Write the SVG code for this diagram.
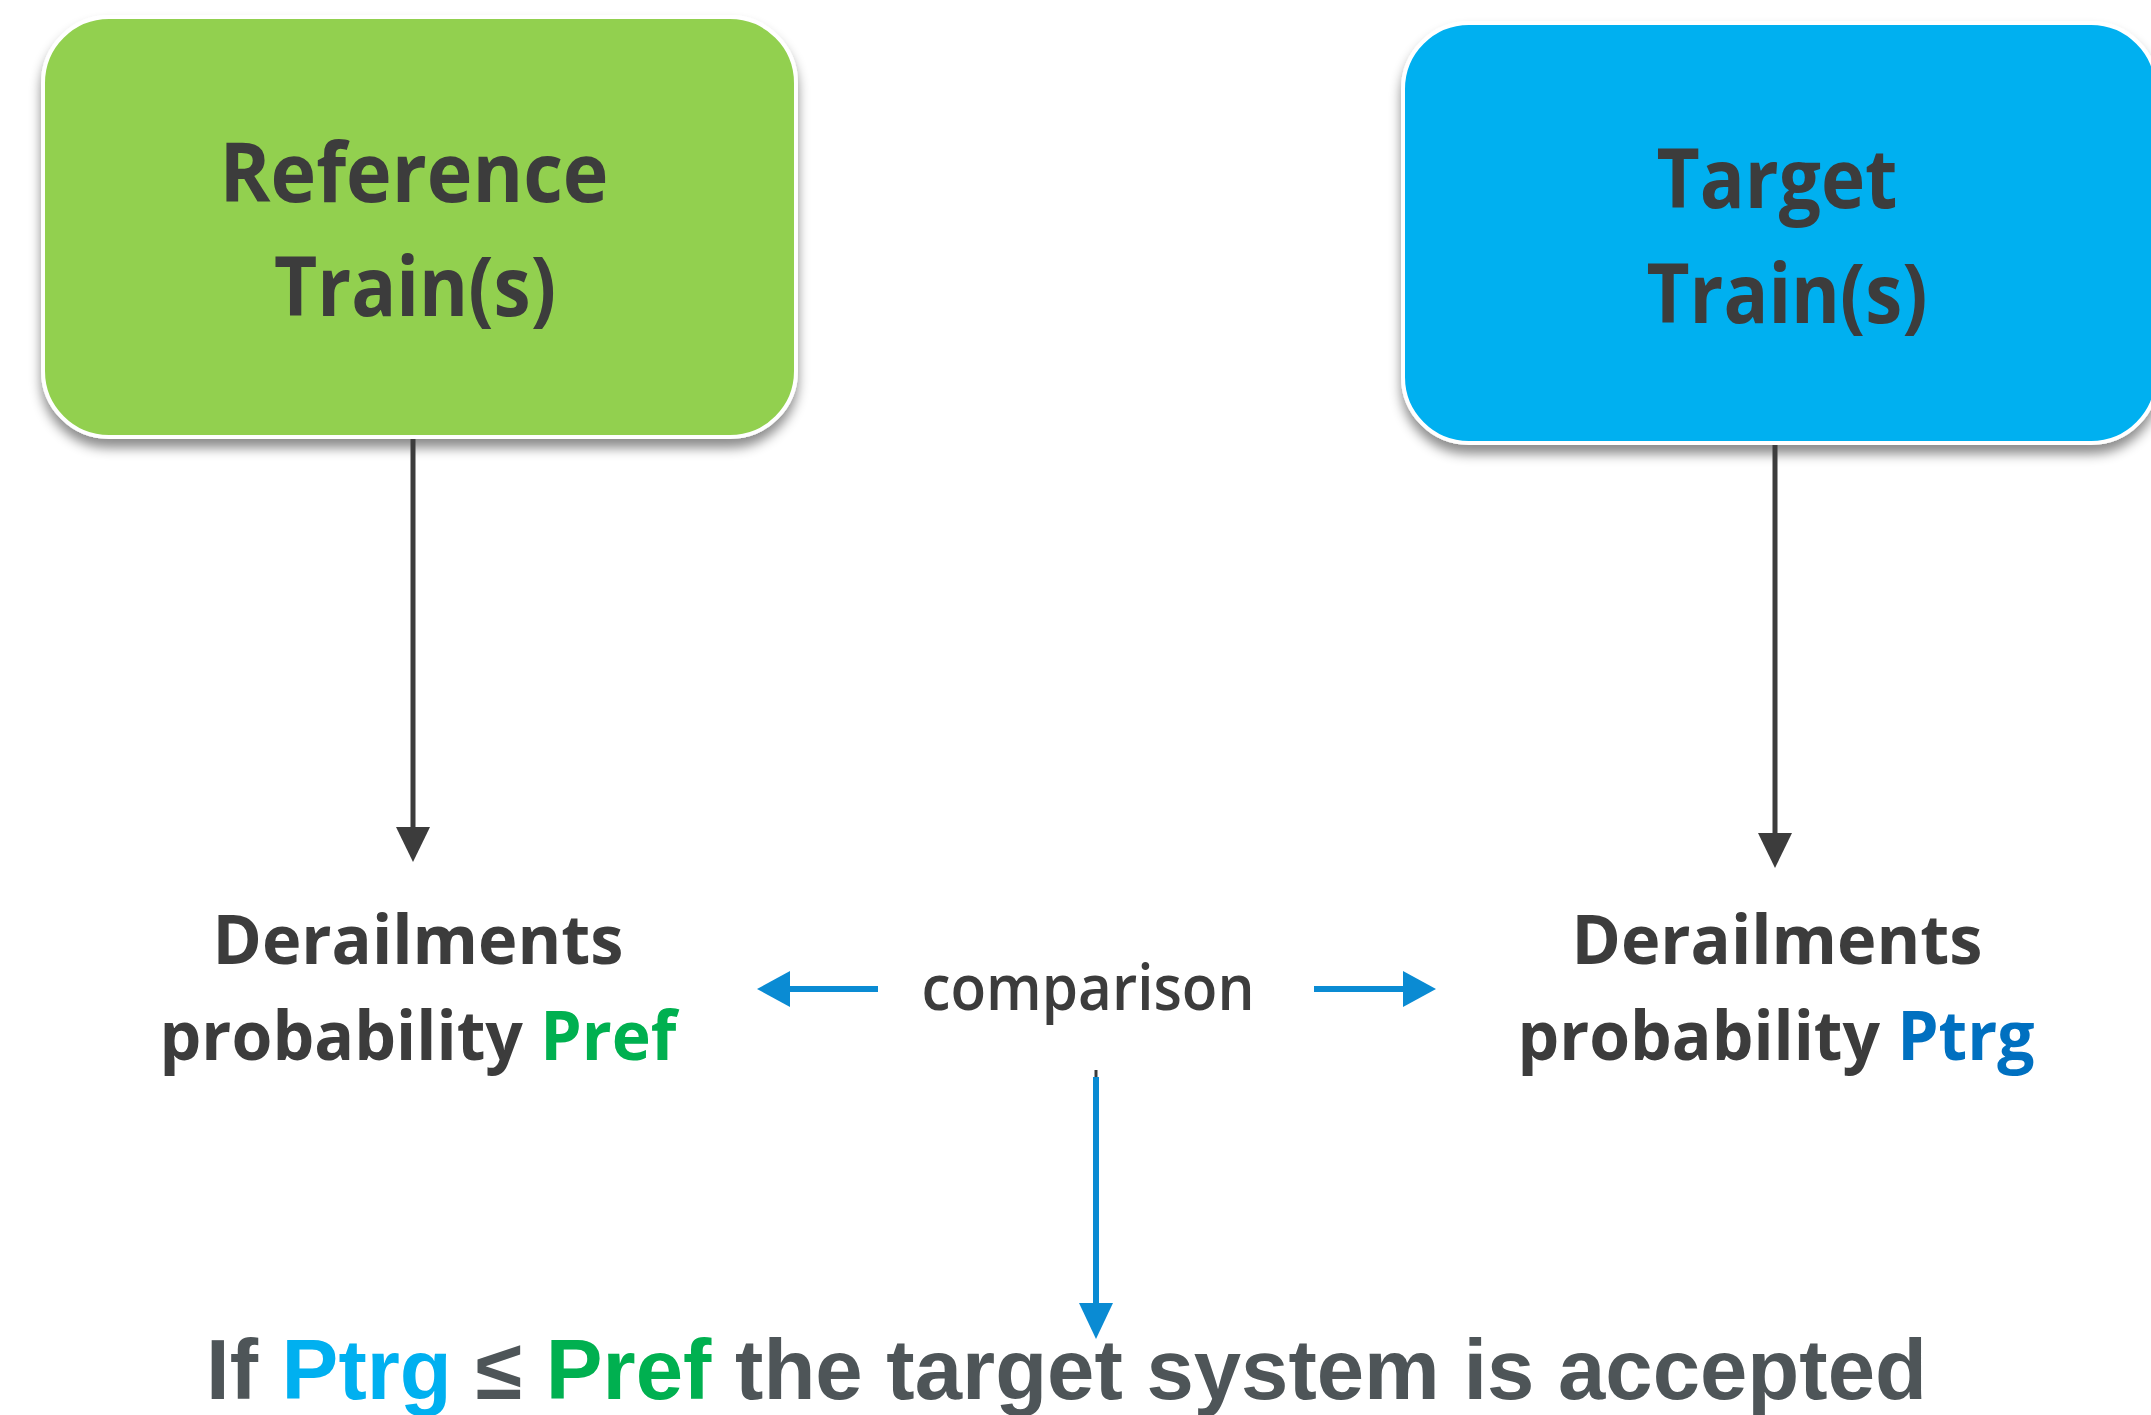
<svg xmlns="http://www.w3.org/2000/svg" width="2151" height="1415" viewBox="0 0 2151 1415">
<style>
.lbl{font-family:"Open Sans","Noto Sans",sans-serif;font-weight:700;fill:#3c3c3c;text-anchor:middle}
.cmp{font-family:"Open Sans","Noto Sans",sans-serif;font-weight:600;fill:#3c3c3c;text-anchor:middle}
.res{font-family:"Liberation Sans",Arial,sans-serif;font-weight:700;fill:#4e5558}
.dk{stroke:#3c3c3c;stroke-width:5;fill:none}
.bl{stroke:#0a8bd3;stroke-width:6;fill:none}
</style>
<defs>
<filter id="sh" x="-10%" y="-10%" width="120%" height="130%">
<feDropShadow dx="0" dy="9" stdDeviation="6" flood-color="#000" flood-opacity="0.45"/>
</filter>
</defs>
<rect width="2151" height="1415" fill="#fff"/>
<g id="reference-train">
<rect x="43" y="17" width="753" height="420" rx="66" fill="#92d050" stroke="#fff" stroke-width="4" filter="url(#sh)"/>
<text class="lbl" x="414" y="202" font-size="82" textLength="389" lengthAdjust="spacingAndGlyphs">Reference</text>
<text class="lbl" x="415" y="316" font-size="82" textLength="282" lengthAdjust="spacingAndGlyphs">Train(s)</text>
</g>
<g id="target-train">
<rect x="1403" y="23" width="754" height="420" rx="66" fill="#00b0f0" stroke="#fff" stroke-width="4" filter="url(#sh)"/>
<text class="lbl" x="1777" y="208" font-size="82" textLength="241" lengthAdjust="spacingAndGlyphs">Target</text>
<text class="lbl" x="1787" y="323" font-size="82" textLength="281" lengthAdjust="spacingAndGlyphs">Train(s)</text>
</g>
<g id="pref">
<text class="lbl" x="418" y="964" font-size="68" textLength="411" lengthAdjust="spacingAndGlyphs">Derailments</text>
<text class="lbl" x="418" y="1060" font-size="68" textLength="517" lengthAdjust="spacingAndGlyphs">probability <tspan fill="#00b050">Pref</tspan></text>
</g>
<g id="ptrg">
<text class="lbl" x="1777" y="964" font-size="68" textLength="411" lengthAdjust="spacingAndGlyphs">Derailments</text>
<text class="lbl" x="1776" y="1060" font-size="68" textLength="517" lengthAdjust="spacingAndGlyphs">probability <tspan fill="#0070c0">Ptrg</tspan></text>
</g>
<g id="comparison">
<text class="cmp" x="1088" y="1010" font-size="64" textLength="333" lengthAdjust="spacingAndGlyphs">comparison</text>
</g>
<g id="result">
<text class="res" x="206" y="1399" font-size="85" textLength="1721" lengthAdjust="spacingAndGlyphs">If <tspan fill="#00b0f0">Ptrg</tspan> ≤ <tspan fill="#00b050">Pref</tspan> the target system is accepted</text>
</g>
<g id="connectors">
<line class="dk" x1="413" y1="439" x2="413" y2="830"/>
<polygon points="396,827 430,827 413,862" fill="#3c3c3c"/>
<line class="dk" x1="1775" y1="445" x2="1775" y2="836"/>
<polygon points="1758,833 1792,833 1775,868" fill="#3c3c3c"/>
<line class="bl" x1="878" y1="989" x2="785" y2="989"/>
<polygon points="757,989 790,971 790,1007" fill="#0a8bd3"/>
<line class="bl" x1="1314" y1="989" x2="1408" y2="989"/>
<polygon points="1436,989 1403,971 1403,1007" fill="#0a8bd3"/>
<line x1="1096" y1="1070" x2="1096" y2="1078" stroke="#3c3c3c" stroke-width="3"/>
<line class="bl" x1="1096" y1="1077" x2="1096" y2="1308" stroke-width="7"/>
<polygon points="1079,1303 1113,1303 1096,1339" fill="#0a8bd3"/>
</g>
</svg>
